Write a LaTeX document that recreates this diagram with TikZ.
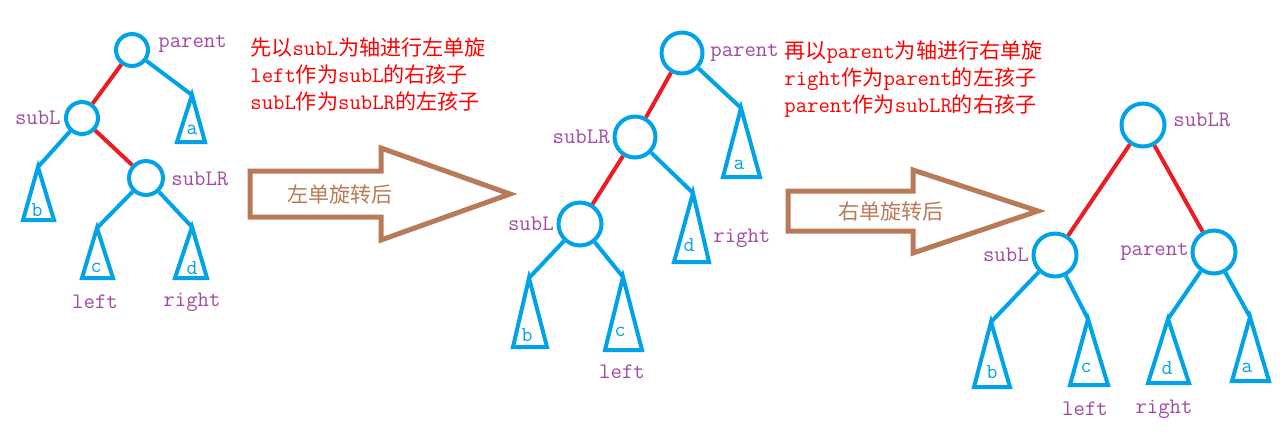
\documentclass[tikz,border=0pt]{standalone}
\usepackage{fontspec}
\setmainfont{Latin Modern Mono}[Scale=1.05]
\newfontfamily\cjk{Noto Sans CJK SC}
\definecolor{tblue}{RGB}{0,162,232}
\definecolor{tred}{RGB}{237,28,36}
\definecolor{tbrown}{RGB}{185,122,87}
\definecolor{tpurple}{RGB}{163,73,164}
\definecolor{txtred}{RGB}{255,0,0}
\tikzset{
  treenode/.style={circle,draw=tblue,line width=0.08cm,inner sep=0pt},
  small/.style={treenode,minimum size=0.64cm},
  big/.style={treenode,minimum size=0.82cm},
  bedge/.style={draw=tblue,line width=0.08cm},
  redge/.style={draw=tred,line width=0.08cm},
  subtree/.style={draw=tblue,line width=0.08cm,line join=miter},
  lbl/.style={text=tpurple,font=\fontsize{12pt}{14pt}\selectfont,inner sep=0pt},
  tlbl/.style={text=tblue,font=\fontsize{11.5pt}{13pt}\selectfont,inner sep=0pt},
  note/.style={text=txtred,font=\fontsize{12pt}{15.3pt}\selectfont,align=left,inner sep=0pt,anchor=west},
  bigarrow/.style={draw=tbrown,line width=0.1cm,line join=miter},
  arrowtext/.style={text=tbrown,font=\fontsize{12pt}{14pt}\selectfont\cjk,inner sep=0pt},
}
\newcommand\subtri[4]{% name, apex, left base, right base
  \coordinate (#1) at #2;
  \draw[subtree] (#1) -- #3 -- #4 -- cycle;
}
\begin{document}
\begin{tikzpicture}[x=0.02cm,y=-0.02cm]
\useasboundingbox (0,0) rectangle (1284,441);

% ---------- Tree 1 ----------
\node[small] (P1) at (132,50) {};
\node[small] (L1) at (82,118) {};
\node[small,minimum size=0.68cm] (R1) at (146,178) {};
\node[lbl,anchor=west] (P1l) at (158,44) {parent};
\node[lbl,anchor=east] (L1l) at (61,118) {subL};
\node[lbl,anchor=west] (R1l) at (171,179) {subLR};
\subtri{a1}{(192,95)}{(177,142)}{(205,142)}
\subtri{b1}{(38,167)}{(23,220)}{(54,220)}
\subtri{c1}{(97,228)}{(82,278)}{(113,278)}
\subtri{d1}{(192,227)}{(175,278)}{(207,278)}
\node[tlbl] (a1l) at (192,130) {a};
\node[tlbl] (b1l) at (37,210) {b};
\node[tlbl] (c1l) at (96,268) {c};
\node[tlbl] (d1l) at (192,268) {d};
\node[lbl] (left1) at (95,302) {left};
\node[lbl] (right1) at (192,302) {right};
\draw[redge] (P1) -- (L1);
\draw[redge] (L1) -- (R1);
\draw[bedge] (P1) -- (a1);
\draw[bedge] (L1) -- (b1);
\draw[bedge] (R1) -- (c1);
\draw[bedge] (R1) -- (d1);

% ---------- Note 1 ----------
\node[note] (n1) at (250,74.5) {{\cjk 先以}subL{\cjk 为轴进行左单旋}\\left{\cjk 作为}subL{\cjk 的右孩子}\\subL{\cjk 作为}subLR{\cjk 的左孩子}};

% ---------- Arrow 1 ----------
\draw[bigarrow] (250,171) -- (381,171) -- (381,148) -- (510,194) -- (381,240) -- (381,217) -- (250,217) -- cycle;
\node[arrowtext] (t1) at (340,194) {左单旋转后};

% ---------- Tree 2 ----------
\node[big] (P2) at (682,53) {};
\node[big] (S2) at (635,137) {};
\node[big,minimum size=0.86cm] (L2) at (580,224) {};
\node[lbl,anchor=west] (P2l) at (710,53) {parent};
\node[lbl,anchor=east] (S2l) at (610,137) {subLR};
\node[lbl,anchor=east] (L2l) at (554,224) {subL};
\subtri{a2}{(741,108)}{(723,177)}{(760,177)}
\subtri{d2}{(693,193)}{(674,262)}{(709,262)}
\subtri{b2}{(529,278)}{(513,347)}{(547,347)}
\subtri{c2}{(623,277)}{(605,350)}{(642,350)}
\node[tlbl] (a2l) at (739,165) {a};
\node[tlbl] (d2l) at (689,245) {d};
\node[tlbl] (b2l) at (527,335) {b};
\node[tlbl] (c2l) at (620,332) {c};
\node[lbl,anchor=west] (right2) at (713,238) {right};
\node[lbl] (left2) at (622,372) {left};
\draw[redge] (P2) -- (S2);
\draw[redge] (S2) -- (L2);
\draw[bedge] (P2) -- (a2);
\draw[bedge] (S2) -- (d2);
\draw[bedge] (L2) -- (b2);
\draw[bedge] (L2) -- (c2);

% ---------- Note 2 ----------
\node[note] (n2) at (784,79.2) {{\cjk 再以}parent{\cjk 为轴进行右单旋}\\right{\cjk 作为}parent{\cjk 的左孩子}\\parent{\cjk 作为}subLR{\cjk 的右孩子}};

% ---------- Arrow 2 ----------
\draw[bigarrow] (788,191) -- (913,191) -- (913,170) -- (1038,211) -- (913,253) -- (913,231) -- (788,231) -- cycle;
\node[arrowtext] (t2) at (891,211) {右单旋转后};

% ---------- Tree 3 ----------
\node[big,minimum size=0.86cm] (S3) at (1143,125) {};
\node[big,minimum size=0.86cm] (L3) at (1055,255) {};
\node[big,minimum size=0.86cm] (P3) at (1214,252) {};
\node[lbl,anchor=west] (S3l) at (1173,120) {subLR};
\node[lbl,anchor=east] (L3l) at (1029,255) {subL};
\node[lbl,anchor=east] (P3l) at (1189,252) {parent};
\subtri{b3}{(991,322)}{(974,387)}{(1010,387)}
\subtri{c3}{(1088,319)}{(1070,385)}{(1108,385)}
\subtri{d3}{(1168,319)}{(1148,383)}{(1189,383)}
\subtri{a3}{(1250,317)}{(1232,381)}{(1269,381)}
\node[tlbl] (b3l) at (992,372) {b};
\node[tlbl] (c3l) at (1086,368) {c};
\node[tlbl] (d3l) at (1167,368) {d};
\node[tlbl] (a3l) at (1247,368) {a};
\node[lbl] (left3) at (1085,409) {left};
\node[lbl] (right3) at (1164,409) {right};
\draw[redge] (S3) -- (L3);
\draw[redge] (S3) -- (P3);
\draw[bedge] (L3) -- (b3);
\draw[bedge] (L3) -- (c3);
\draw[bedge] (P3) -- (d3);
\draw[bedge] (P3) -- (a3);
\end{tikzpicture}
\end{document}
